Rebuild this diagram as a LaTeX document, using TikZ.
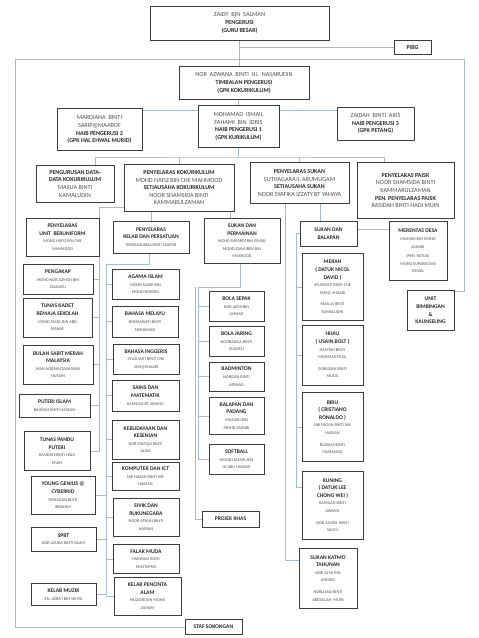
\documentclass[tikz,border=0pt]{standalone}
\usepackage{fontspec}
\setmainfont{Carlito}
\definecolor{lnc}{RGB}{160,188,214}
\definecolor{bdc}{RGB}{60,60,60}
\definecolor{txc}{RGB}{40,40,40}
\definecolor{nmc}{RGB}{80,80,80}
\newcommand{\ttl}[1]{{\fontsize{5.6}{7.8}\selectfont\bfseries #1}}
\newcommand{\nmm}[1]{{\fontsize{4.3}{7}\selectfont\color{nmc}#1}}
\newcommand{\btl}[1]{{\fontsize{6}{8.2}\selectfont\bfseries #1}}
\newcommand{\bnm}[1]{{\fontsize{6.2}{8.2}\selectfont\color{nmc}#1}}
\newcommand{\bx}[6]{\node[box,minimum width={(#4-#2)*1pt},minimum height={(#5-#3)*1pt}] (#1) at ({(#2+#4)/2},{-(#3+#5)/2}) {#6};}
\pgfdeclarelayer{bg}
\pgfdeclarelayer{lines}
\pgfsetlayers{bg,lines,main}
\tikzset{
  box/.style={draw=bdc, line width=0.7pt, fill=white, inner sep=1pt, outer sep=0pt, align=center, text=txc, font=\fontsize{5}{7.6}\selectfont},
  ln/.style={draw=lnc, line width=0.8pt}
}
\begin{document}
\begin{tikzpicture}[x=1pt,y=1pt]
\begin{pgfonlayer}{bg}
\fill[white] (0,0) rectangle (479,-638);
\end{pgfonlayer}
\useasboundingbox (0,0) rectangle (479,-638);
% top level
\bx{zaidy}{150}{6}{329}{40}{\bnm{ZAIDY \ BIN \ SALMAN}\\\btl{PENGERUSI}\\\btl{(GURU BESAR)}}
\bx{pibg}{394}{40}{431}{54.5}{\btl{PIBG}}
\bx{azwana}{179}{66.4}{309}{99.6}{\bnm{NOR \ AZWANA \ BINTI \ HJ. \ NASARUDIN}\\\btl{TIMBALAN PENGERUSI}\\\btl{(GPK KOKURIKULUM)}}
\bx{mardiana}{57}{108.6}{142}{150.8}{\bnm{MARDIANA \ BINTI}\\\bnm{SARIP@MAAROF}\\\btl{NAIB PENGERUSI 2}\\\btl{(GPK HAL EHWAL MURID)}}
\bx{mohamad}{198}{105.7}{279}{147.5}{\bnm{MOHAMAD \ ISMAIL}\\\bnm{FAHAMI \ BIN \ IDRIS}\\\btl{NAIB PENGERUSI 1}\\\btl{(GPK KURIKULUM)}}
\bx{zaidah}{337}{107.4}{414}{140.2}{\bnm{ZAIDAH \ BINTI \ ARIS}\\\btl{NAIB PENGERUSI 3}\\\btl{(GPK PETANG)}}
% second level
\bx{pdata}{36}{165.6}{114}{202}{\btl{PENGURUSAN DATA-}\\\btl{DATA KOKURIKULUM}\\\bnm{MASLIA BINTI}\\\bnm{KAMALUDIN}}
\bx{kok}{124}{164}{234}{211.5}{\btl{PENYELARAS KOKURIKULUM}\\\bnm{MOHD HAFIZ BIN CHE MAHMOOD}\\\btl{SETIAUSAHA KOKURIKULUM}\\\bnm{NOOR SHAMSIDA BINTI}\\\bnm{KAMMARULZAMAN}}
\bx{sukan}{250}{162.7}{349}{203.3}{\btl{PENYELARAS SUKAN}\\\bnm{SUTHAGARA/L ARUMUGAM}\\\btl{SETIAUSAHA SUKAN}\\\bnm{NOOR SYAFIKA IZZATY BT YAHAYA}}
\bx{paisk}{357}{162.7}{454}{218.4}{\btl{PENYELARAS PAISK}\\\bnm{NOOR SHAMSIDA BINTI}\\\bnm{KAMMARULZAMAN}\\\btl{PEN. PENYELARAS PAISK}\\\bnm{RASIDAH BINTI HADI MUIN}}
% third level
\bx{unif}{26}{218}{99}{256.1}{\ttl{PENYELARAS}\\\ttl{UNIT \ BERUNIFORM}\\\nmm{MOHD HAFIZ BIN CHE}\\\nmm{MAHMOOD}}
\bx{kelab}{113}{221.3}{189}{252.9}{\ttl{PENYELARAS}\\\ttl{KELAB DAN PERSATUAN}\\\nmm{NORHASLINDA BINTI JAAPAR}}
\bx{sdp}{204}{218.4}{280}{263.5}{\ttl{SUKAN DAN}\\\ttl{PERMAINAN}\\\nmm{MOHD SUPARDI BIN ISMAIL}\\\nmm{MOHD ZAINUREN BIN}\\\nmm{MASNGOD}}
\bx{sdb}{300}{221.7}{357}{245.9}{\ttl{SUKAN DAN}\\\ttl{BALAPAN}}
\bx{md}{389}{221.7}{447}{280.3}{\ttl{MERENTAS DESA}\\\nmm{MUZAIRI BIN MOHD}\\\nmm{ZAHARI}\\[2pt]\nmm{(PEN. KETUA)}\\\nmm{MOHD SUPARDI BIN}\\\nmm{ISMAIL}}
\bx{ubk}{407}{290.6}{454}{330.3}{\ttl{UNIT}\\\ttl{BIMBINGAN}\\\ttl{\&}\\\ttl{KAUNSELING}}
% uniform column
\bx{pengakap}{23}{264.3}{93}{294.3}{\ttl{PENGAKAP}\\\nmm{MOHD NOR AZMAN BIN}\\\nmm{ZULKAFLI}}
\bx{tkadet}{23}{298}{92}{336.9}{\ttl{TUNAS KADET}\\\ttl{REMAJA SEKOLAH}\\\nmm{MOHD FAIZIL BIN ABD}\\\nmm{MANAF}}
\bx{bsabit}{23}{345.5}{93}{384}{\ttl{BULAN SABIT MERAH}\\\ttl{MALAYSIA}\\\nmm{WAN NORMAZIZAH WAN}\\\nmm{HUSAIN}}
\bx{pislam}{19}{393.9}{90}{417.2}{\ttl{PUTERI ISLAM}\\\nmm{BAHIYAH BINTI HASSAN}}
\bx{tpandu}{24}{431.6}{90}{470.5}{\ttl{TUNAS PANDU}\\\ttl{PUTERI}\\\nmm{RASIDAH BINTI HADI}\\\nmm{MUIN}}
\bx{yg}{31}{476.2}{95}{514.8}{\ttl{YOUNG GENIUS @}\\\ttl{CYBERKID}\\\nmm{ROHAIZAN BINTI}\\\nmm{IBRAHIM}}
\bx{spbt}{31}{527}{96}{551.2}{\ttl{SPBT}\\\nmm{NOR AZURA BINTI SALIM}}
\bx{kmuzik}{31}{583.2}{96}{605.7}{\ttl{KELAB MUZIK}\\\nmm{EN. AZRA'I BIN YAHYA}}
% kelab column
\bx{agama}{112}{269.3}{179}{299.6}{\ttl{AGAMA ISLAM}\\\nmm{MOHD NASIR BIN}\\\nmm{MOHD NORDIN}}
\bx{bm}{112}{306.6}{178}{336.9}{\ttl{BAHASA MELAYU}\\\nmm{ROSMAWATI BINTI}\\\nmm{MOHAMAD}}
\bx{bi}{113}{344.3}{179}{374.2}{\ttl{BAHASA INGGERIS}\\\nmm{SYUZIANTI BINTI CHE}\\\nmm{SOH@SHAARI}}
\bx{sains}{112}{380.3}{179}{411}{\ttl{SAINS DAN}\\\ttl{MATEMATIK}\\\nmm{KAMILAH BT AWANG}}
\bx{kebud}{112}{420.5}{179}{459}{\ttl{KEBUDAYAAN DAN}\\\ttl{KESENIAN}\\\nmm{NUR SYAFIQA BINTI}\\\nmm{ALIAS}}
\bx{komp}{112}{461.9}{179}{490.6}{\ttl{KOMPUTER DAN ICT}\\\nmm{NIK FAIZAH BINTI NIK}\\\nmm{HASSAN}}
\bx{sivik}{113}{498}{179}{536}{\ttl{SIVIK DAN}\\\ttl{RUKUNEGARA}\\\nmm{NOOR ATIKAH BINTI}\\\nmm{HASSAN}}
\bx{falak}{113}{544.3}{179}{573.8}{\ttl{FALAK MUDA}\\\nmm{MANISAH BINTI}\\\nmm{MUSTAPHA}}
\bx{kpa}{114}{577.5}{181}{615.2}{\ttl{KELAB PENCINTA}\\\ttl{ALAM}\\\nmm{MUZAIRI BIN MOHD}\\\nmm{ZAHARI}}
\bx{staf}{185}{619.7}{242}{634.4}{\ttl{STAF SOKONGAN}}
% sukan permainan column
\bx{bsepak}{209}{291.8}{264}{321.3}{\ttl{BOLA SEPAK}\\\nmm{NOR AZMI BIN}\\\nmm{AHMAD}}
\bx{bjaring}{209}{326.6}{264}{356.1}{\ttl{BOLA JARING}\\\nmm{NOORADILA BINTI}\\\nmm{ZULKIFLI}}
\bx{badm}{209}{361.9}{264}{391.4}{\ttl{BADMINTON}\\\nmm{NORIZAN BINTI}\\\nmm{ARSHAD}}
\bx{bpadang}{209}{397.1}{264}{434.8}{\ttl{BALAPAN DAN}\\\ttl{PADANG}\\\nmm{MUZAIRI BIN}\\\nmm{MOHD ZAHARI}}
\bx{softball}{209}{444.3}{264}{474.6}{\ttl{SOFTBALL}\\\nmm{MOHD HAZMIL BIN}\\\nmm{HJ ABU HASSAN}}
\bx{pkhas}{202}{511}{259}{527}{\ttl{PROJEK KHAS}}
% rumah sukan column
\bx{merah}{302}{253.3}{363}{320.5}{\ttl{MERAH}\\\ttl{( DATUK NICOL}\\\ttl{DAVID )}\\\nmm{SYUZIANTI BINTI CHE}\\\nmm{SOH@ SHAARI}\\[4pt]\nmm{MASLIA BINTI}\\\nmm{KAMALUDIN}}
\bx{hijau}{302}{325}{363}{385.2}{\ttl{HIJAU}\\\ttl{( USAIN BOLT )}\\\nmm{NASITAH BINTI}\\\nmm{MOHMAD FAZIL}\\[4pt]\nmm{ZURAIDAH BINTI}\\\nmm{MUDA}}
\bx{biru}{302}{392.6}{363}{461.5}{\ttl{BIRU}\\\ttl{( CRISTIANO}\\\ttl{RONALDO )}\\\nmm{NIK FAIZAH BINTI NIK}\\\nmm{HASSAN}\\[4pt]\nmm{RUZANA BINTI}\\\nmm{MUHAMAD}}
\bx{kuning}{302}{471.3}{363}{539}{\ttl{KUNING}\\\ttl{( DATUK LEE}\\\ttl{CHONG WEI )}\\\nmm{KAMILAH BINTI}\\\nmm{AWANG}\\[4pt]\nmm{NOR AZURA \ BINTI}\\\nmm{SALIM}}
\bx{katmo}{299}{548}{357}{608.6}{\ttl{SUKAN KATMO}\\\ttl{TAHUNAN}\\\nmm{NOR AZMI BIN}\\\nmm{AHMAD}\\[4pt]\nmm{NORLIANA BINTI}\\\nmm{ABDULLAH \ MUIN}}
% connectors
\begin{pgfonlayer}{lines}
\coordinate (ftr) at (464,-59.4);
\coordinate (ftl) at (15,-59.4);
\draw[ln] (zaidy.south) -- (zaidy.south |- azwana.north);
\draw[ln] (pibg.west) -- (pibg.west -| zaidy.south);
\draw[ln] ([yshift=-1pt]ubk.north east) -| (ftr) -- (ftl) |- (staf.west);
\draw[ln] (mohamad.north |- azwana.south) -- (mohamad.north);
\draw[ln] ([yshift=-2pt]mardiana.north east) -- ([yshift=-2pt]mardiana.north east -| mohamad.west);
\draw[ln] ([yshift=-2pt]mardiana.north east -| mohamad.east) -- ([yshift=-2pt]mardiana.north east -| zaidah.west);
\draw[ln] (mohamad.south) -- ++(0,-9.5) coordinate (bus);
\draw[ln] ([xshift=20pt]pdata.north) |- (bus) -| ([xshift=-21.5pt]paisk.north);
\draw[ln] (kok.north |- bus) -- (kok.north);
\draw[ln] (sukan.north |- bus) -- (sukan.north);
% uniform
\draw[ln] ([yshift=4.5pt]kok.south west) -- ++(-25,0) coordinate (s1) |- (tpandu.east);
\foreach \n in {pengakap,tkadet,bsabit,pislam} \draw[ln] (\n.east) -- (\n.east -| s1);
% kelab
\draw[ln] (kelab.north) -- (kelab.north |- kok.south);
\draw[ln] ([xshift=-2pt]kelab.south) |- ++(-43,-11.4) coordinate (s2) -- (s2 |- kmuzik.east) -- (kmuzik.east);
\foreach \n in {agama,bm,bi,sains,kebud,komp,sivik,falak,kpa} \draw[ln] (s2 |- \n.west) -- (\n.west);
\foreach \n in {yg,spbt} \draw[ln] (\n.east) -- (\n.east -| s2);
% sukan dan permainan
\draw[ln] ([xshift=-12pt]sdp.north) -- ([xshift=-12pt]sdp.north |- kok.south);
\draw[ln] ([xshift=-2pt]sdp.south) |- ++(-42,-23.5) coordinate (s3) -- (s3 |- softball.west);
\foreach \n in {bsepak,bjaring,badm,bpadang,softball} \draw[ln] (s3 |- \n.west) -- (\n.west);
\draw[ln] ([xshift=-3pt]s3) |- (pkhas.west);
% sukan
\draw[ln] ([xshift=-8.5pt]sdb.north) -- ([xshift=-8.5pt]sdb.north |- sukan.south);
\draw[ln] ([xshift=-14.5pt]sukan.south) |- ([yshift=-12.7pt]katmo.north west);
\draw[ln] ([yshift=4.3pt]sdb.east) -- ([yshift=4.3pt]sdb.east -| md.west);
\draw[ln] (sdb.west) -- ++(-4,0) coordinate (s4) |- ([yshift=-16.4pt]kuning.north west);
\foreach \n in {merah,hijau,biru} \draw[ln] (s4 |- \n.west) -- (\n.west);
\end{pgfonlayer}
\end{tikzpicture}
\end{document}
